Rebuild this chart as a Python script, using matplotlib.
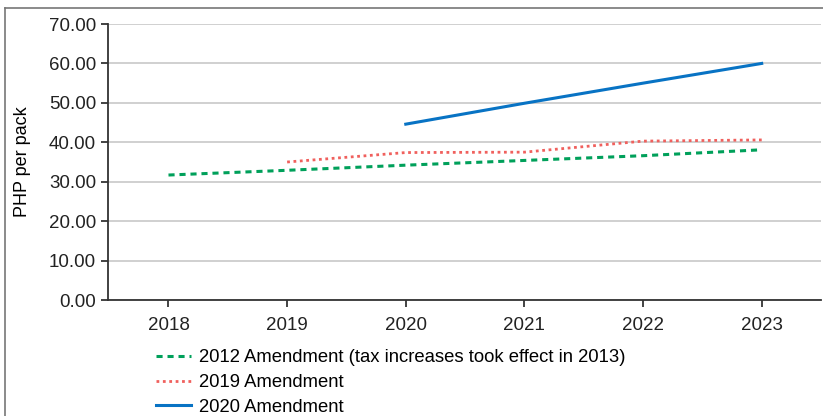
import matplotlib
matplotlib.use("Agg")
import matplotlib.pyplot as plt
from matplotlib.lines import Line2D

plt.rcParams['font.family'] = ['Liberation Sans', 'DejaVu Sans']

# data
years = [2018, 2019, 2020, 2021, 2022, 2023]
amend_2012 = [31.7, 32.9, 34.2, 35.4, 36.6, 38.1]
years_2019 = [2019, 2020, 2021, 2022, 2023]
amend_2019 = [35.0, 37.4, 37.5, 40.3, 40.6]
years_2020 = [2020, 2021, 2022, 2023]
amend_2020 = [44.6, 49.9, 55.0, 60.0]
labels = ['2012 Amendment (tax increases took effect in 2013)',
          '2019 Amendment',
          '2020 Amendment']

fig = plt.figure(figsize=(8.23, 4.16), dpi=100)
ax = fig.add_axes([0.1312, 0.2788, 0.8664, 0.6635])

ax.plot(years, amend_2012, color='#00A05A', lw=2.2, ls=(0, (2.0, 1.6)), label=labels[0])
ax.plot(years_2019, amend_2019, color='#F0605D', lw=2.0, ls=(0, (1, 1.3)), label=labels[1])
ax.plot(years_2020, amend_2020, color='#0873C4', lw=2.2, label=labels[2])

ax.set_xlim(2017.49, 2023.5)
ax.set_ylim(0, 70)
ax.set_xticks(years)
ax.set_yticks(range(0, 71, 10))
ax.set_yticklabels(['%.2f' % v for v in range(0, 71, 10)])
ax.tick_params(axis='both', labelsize=13.5, colors='#222222', width=1.2, length=5, direction='out')
ax.tick_params(axis='x', pad=7)
ax.grid(axis='y', color='#c8c8c8', lw=1.2)
ax.set_axisbelow(True)
for s in ['top', 'right']:
    ax.spines[s].set_visible(False)
for s in ['left', 'bottom']:
    ax.spines[s].set_color('#333333')
    ax.spines[s].set_linewidth(1.3)
ax.set_ylabel('PHP per pack', fontsize=13)
ax.yaxis.set_label_coords(-0.108, 0.5)

fig.legend(loc='upper left', bbox_to_anchor=(0.19, 0.16), frameon=False,
           fontsize=13.3, handlelength=1.85, handletextpad=0.45, labelspacing=0.42,
           borderaxespad=0, borderpad=0)

# outer frame (left and top edges visible)
fig.add_artist(Line2D([5/823, 5/823], [0, 1 - 8/416], transform=fig.transFigure, color='#777777', lw=1.2))
fig.add_artist(Line2D([5/823, 1], [1 - 8/416, 1 - 8/416], transform=fig.transFigure, color='#777777', lw=1.2))

fig.savefig('out.png', dpi=100)
